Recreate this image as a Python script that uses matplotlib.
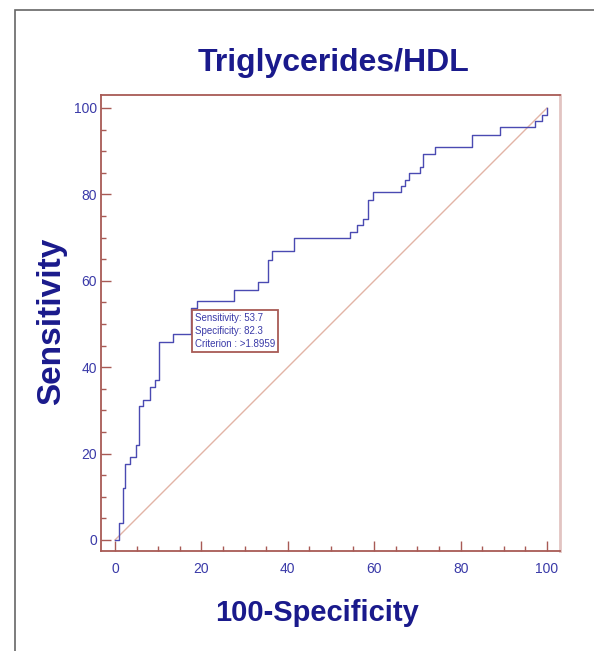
import matplotlib
matplotlib.use("Agg")
import matplotlib.pyplot as plt
from matplotlib.patches import Rectangle

plt.rcParams["font.family"] = ["Liberation Sans", "DejaVu Sans"]

# Puntos de la curva ROC (100-especificidad, sensibilidad)
fpr = [0, 1.0, 1.8, 2.2, 3.5, 4.9, 5.6, 6.4, 8.1, 9.3, 10.3, 13.5, 17.6, 18.9,
       27.5, 33.2, 35.5, 36.3, 41.5, 54.3, 56.0, 57.5, 58.6, 59.8, 66.1, 67.1,
       68.1, 70.6, 71.4, 74.1, 82.6, 89.0, 97.2, 98.8, 100]
tpr = [0, 4.0, 12.0, 17.7, 19.3, 22.0, 30.9, 32.4, 35.4, 37.0, 45.9, 47.7, 53.7, 55.4,
       57.8, 59.8, 64.8, 66.9, 69.9, 71.4, 73.0, 74.4, 78.7, 80.6, 81.9, 83.3,
       84.9, 86.3, 89.4, 91.0, 93.8, 95.5, 96.9, 98.4, 100]

ticks = [0, 20, 40, 60, 80, 100]
best_point = (17.6, 53.7)
info_lines = ["Sensitivity: 53.7", "Specificity: 82.3", "Criterion : >1.8959"]

navy = "#1a1a8c"
label_blue = "#3a3aa8"
brown = "#a85a55"

fig = plt.figure(figsize=(5.94, 6.51), dpi=100)

# marco gris del recuadro
fig.patches.append(Rectangle((15 / 594, -0.1), 1.2, (641 / 651) + 0.1,
                             transform=fig.transFigure, fill=False,
                             edgecolor="#666666", linewidth=1.2))

ax = fig.add_axes([101 / 594, 100 / 651, 459 / 594, 456 / 651])
ax.set_xlim(-3.24, 103.0)
ax.set_ylim(-2.55, 103.0)

# diagonal de referencia
ax.plot([0, 100], [0, 100], color="#e2b4a6", linewidth=1.0)
# curva ROC escalonada
ax.plot(fpr, tpr, drawstyle="steps-post", color="#4a4ab2", linewidth=1.0)

ax.set_xticks(ticks)
ax.set_yticks(ticks)
ax.set_xticks(range(0, 101, 5), minor=True)
ax.set_yticks(range(0, 101, 5), minor=True)
ax.tick_params(which="both", direction="in", color=brown, top=False, right=False)
ax.tick_params(which="major", length=7, width=1.0, labelsize=10,
               labelcolor=label_blue)
ax.tick_params(axis="x", which="major", pad=8)
ax.tick_params(axis="y", which="major", pad=3)
ax.tick_params(which="minor", length=3.5, width=1.0)

for side in ["left", "bottom", "top"]:
    ax.spines[side].set_color(brown)
    ax.spines[side].set_linewidth(1.3)
ax.spines["right"].set_color("#e2c4c2")
ax.spines["right"].set_linewidth(2.0)

# recuadro con el punto de corte
ax.text(best_point[0] + 0.9, best_point[1] - 1.2, "\n".join(info_lines),
        fontsize=7, color=label_blue, va="top", ha="left", linespacing=1.35,
        bbox=dict(boxstyle="square,pad=0.3", facecolor="white",
                  edgecolor=brown, linewidth=1.3))

fig.text(334 / 594, 1 - 63 / 651, "Triglycerides/HDL", fontsize=23,
         fontweight="bold", color=navy, ha="center", va="center")
fig.text(317 / 594, 1 - 613 / 651, "100-Specificity", fontsize=21,
         fontweight="bold", color=navy, ha="center", va="center")
fig.text(52 / 594, 1 - 321 / 651, "Sensitivity", fontsize=24,
         fontweight="bold", color=navy, ha="center", va="center", rotation=90)

fig.savefig("out.png", dpi=100)
